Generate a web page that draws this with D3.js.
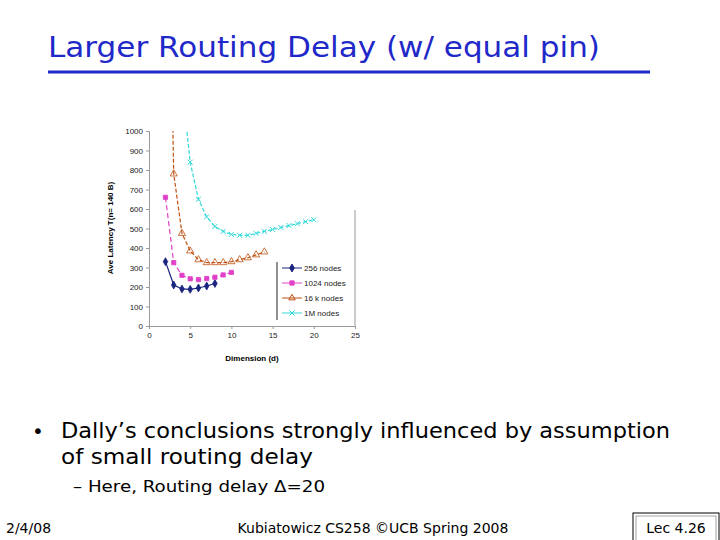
<!DOCTYPE html>
<html><head><meta charset="utf-8">
<script src="https://cdn.jsdelivr.net/npm/d3@7"></script>
<style>
body{margin:0;background:#fff}
svg text{font-family:"DejaVu Sans",sans-serif}
.axis text{font-family:Arial,"Liberation Sans",sans-serif;font-size:8px;fill:#222}
.axis path,.axis line{stroke:#999}
</style></head><body>
<svg id="slide" width="720" height="540"></svg>
<script>
const series = [
  {name:'256 nodes', color:'#1a237e', shape:'diamond', dash:null,
   pts:[[2,330],[3,210],[4,190],[5,188],[6,195],[7,205],[8,218]]},
  {name:'1024 nodes', color:'#e040c8', shape:'square', dash:'5,3',
   pts:[[2,660],[3,325],[4,260],[5,242],[6,238],[7,243],[8,250],[9,262],[10,275]]},
  {name:'16 k nodes', color:'#c05010', shape:'triangle', dash:'4,2',
   pts:[[2,2980],[3,780],[4,475],[5,385],[6,340],[7,325],[8,325],[9,325],[10,330],[11,340],[12,350],[13,365],[14,380]]},
  {name:'1M nodes', color:'#30d8d8', shape:'x', dash:'4,2',
   pts:[[4,1240],[5,840],[6,650],[7,560],[8,510],[9,485],[10,470],[11,465],[12,465],[13,475],[14,485],[15,495],[16,505],[17,515],[18,525],[19,535],[20,545]]}
]
const xTicks = [0,5,10,15,20,25]
const yTicks = d3.range(0, 1001, 100)

const svg = d3.select('#slide')

// title
svg.append('text').attr('x', 48).attr('y', 57).attr('fill', '#1f28c8')
  .style('font-size', '28px').attr('textLength', 552).attr('lengthAdjust','spacingAndGlyphs')
  .text('Larger Routing Delay (w/ equal pin)')
svg.append('line').attr('x1', 48).attr('x2', 650).attr('y1', 72).attr('y2', 72)
  .attr('stroke', '#1f28c8').attr('stroke-width', 3)

// chart
const x = d3.scaleLinear().domain([0,25]).range([149,355])
const y = d3.scaleLinear().domain([0,1000]).range([326,131])

svg.append('clipPath').attr('id','plot').append('rect')
  .attr('x', 149).attr('y', 131).attr('width', 206).attr('height', 195)

svg.append('g').attr('class','axis').attr('transform','translate(0,326)')
  .call(d3.axisBottom(x).tickValues(xTicks).tickSize(3))
svg.append('g').attr('class','axis').attr('transform','translate(149,0)')
  .call(d3.axisLeft(y).tickValues(yTicks).tickFormat(d3.format('d')).tickSize(3))
svg.append('line').attr('x1', 355).attr('x2', 355).attr('y1', 210).attr('y2', 326).attr('stroke', '#999')

svg.append('text').attr('transform', 'translate(113,228) rotate(-90)')
  .attr('text-anchor','middle').style('font-family','Arial,sans-serif').style('font-size','8px').style('font-weight','bold')
  .text('Ave Latency T(n= 140 B)')
svg.append('text').attr('x', 252).attr('y', 361).attr('text-anchor','middle')
  .style('font-family','Arial,sans-serif').style('font-size','8px').style('font-weight','bold')
  .text('Dimension (d)')

const symType = {diamond:d3.symbolDiamond, square:d3.symbolSquare, triangle:d3.symbolTriangle, x:d3.symbolTimes}
const line = d3.line().x(d => x(d[0])).y(d => y(d[1]))
const g = svg.append('g').attr('clip-path','url(#plot)')
series.forEach(s => {
  g.append('path').datum(s.pts).attr('d', line).attr('fill','none')
    .attr('stroke', s.color).attr('stroke-width', 1.2).attr('stroke-dasharray', s.dash)
  g.selectAll(null).data(s.pts).join('path')
    .attr('transform', d => `translate(${x(d[0])},${y(d[1])})`)
    .attr('d', d3.symbol(symType[s.shape], s.shape === 'triangle' ? 22 : 18))
    .attr('fill', s.shape === 'triangle' ? 'none' : s.color)
    .attr('stroke', s.color).attr('stroke-width', s.shape === 'x' ? 1 : 0.8)
})

// legend
svg.append('line').attr('x1',277).attr('x2',277).attr('y1',262).attr('y2',320).attr('stroke','#222')
series.forEach((s, i) => {
  const ly = 268 + i * 15
  svg.append('line').attr('x1', 282).attr('x2', 302).attr('y1', ly).attr('y2', ly).attr('stroke', s.color)
  svg.append('path').attr('transform', `translate(292,${ly})`)
    .attr('d', d3.symbol(symType[s.shape], 18))
    .attr('fill', s.shape === 'triangle' ? 'none' : s.color).attr('stroke', s.color)
  svg.append('text').attr('x', 304).attr('y', ly + 3).style('font-family','Arial,sans-serif')
    .style('font-size','8px').attr('fill','#222').text(s.name)
})

// body text
svg.append('text').attr('x', 32).attr('y', 438).style('font-size','20px').text('•')
svg.append('text').attr('x', 61).attr('y', 438).style('font-size','21px')
  .attr('textLength', 609).attr('lengthAdjust','spacingAndGlyphs')
  .text('Dally’s conclusions strongly influenced by assumption')
svg.append('text').attr('x', 61).attr('y', 464).style('font-size','21px')
  .attr('textLength', 252).attr('lengthAdjust','spacingAndGlyphs')
  .text('of small routing delay')
svg.append('text').attr('x', 73).attr('y', 492).style('font-size','16px')
  .attr('textLength', 252).attr('lengthAdjust','spacingAndGlyphs')
  .text('– Here, Routing delay Δ=20')

// footer
svg.append('text').attr('x', 6).attr('y', 533).style('font-size','14px').text('2/4/08')
svg.append('text').attr('x', 373).attr('y', 533).attr('text-anchor','middle').style('font-size','14px')
  .text('Kubiatowicz CS258 ©UCB Spring 2008')
svg.append('rect').attr('x', 633).attr('y', 513).attr('width', 86).attr('height', 30)
  .attr('fill','none').attr('stroke','#000').attr('stroke-width', 1)
svg.append('rect').attr('x', 636).attr('y', 516).attr('width', 80).attr('height', 30)
  .attr('fill','none').attr('stroke','#666').attr('stroke-width', 0.6)
svg.append('text').attr('x', 676).attr('y', 533).attr('text-anchor','middle').style('font-size','14px').text('Lec 4.26')
</script></body></html>
